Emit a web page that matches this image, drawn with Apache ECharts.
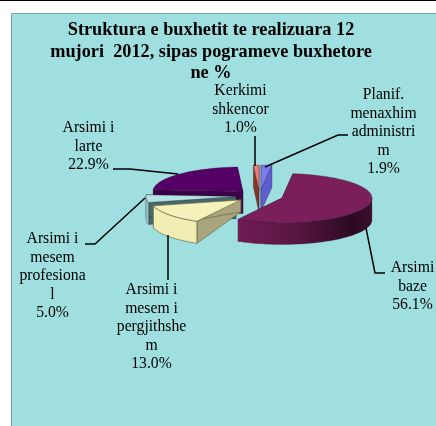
<!DOCTYPE html>
<html><head><meta charset="utf-8">
<style>html,body{margin:0;padding:0;background:#fff}#c{width:436px;height:426px}</style>
<script src="https://cdn.jsdelivr.net/npm/echarts@6/dist/echarts.min.js"></script>
</head><body><div id="c"></div>
<script>
const titleText = "Struktura e buxhetit te realizuara 12\nmujori  2012, sipas pogrameve buxhetore\nne %";
const categories = ["Arsimi\nbaze","Arsimi i\nmesem i\npergjithshe\nm","Arsimi i\nmesem\nprofesiona\nl","Arsimi i\nlarte","Kerkimi\nshkencor","Planif.\nmenaxhim\nadministri\nm"];
const values = [56.1,13.0,5.0,22.9,1.0,1.9];

// styles and layout, separate from the data
const topColors = ["#7B1F5B","#F5F2BC","#B4E4E4","#550066","#F27A72","#7C7CF2"];
const wallColors = ["#6a1a4e","#A9A57C","#46686A","#3A0048","#8A3428","#5E5ED0"];
const arcColors = [null,"#F1EEB4","#9CCACA",null,null,null];
const drawOrder = [3,4,5,2,1,0];
const labelX = [412.5,151.5,52.5,88.5,240.5,383.5];
const labelY = [268,290,239,128,91,95];
const apexDepth = [22,12,22,22,22,22];
const leaders = [
  [[366,228],[375,273],[385,273]],
  [[168,235],[168,280]],
  [[85,244],[95,244],[145,198]],
  [[113,169],[130,169],[178,174]],
  [[255,136],[255,166]],
  [[348,135],[338,135],[265,167]]
];
const pie = {cx:259.5, cy:196, rx:90, ry:24.5, depth:22, start:7, explode:0.2625};
const total = values.reduce((a,b)=>a+b,0);
const rad = d => d*Math.PI/180;

function sliceAngles(i){
  let a = pie.start;
  for(let k=0;k<i;k++) a += values[k]/total*360;
  return [a, a+values[i]/total*360];
}
function renderSlice(params, api){
  const i = params.dataIndex;
  const v = api.value(0);
  const [a0] = sliceAngles(i);
  const a1 = a0 + v/total*360;
  const mid = (a0+a1)/2;
  const cx = pie.cx + pie.explode*pie.rx*Math.sin(rad(mid));
  const cy = pie.cy - pie.explode*pie.ry*Math.cos(rad(mid));
  const pt = t => [cx+pie.rx*Math.sin(rad(t)), cy-pie.ry*Math.cos(rad(t))];
  const down = p => [p[0],p[1]+pie.depth];
  const arc = (s,e) => { const r=[]; const n=Math.max(2,Math.ceil((e-s)/2)); for(let k=0;k<=n;k++) r.push(pt(s+(e-s)*k/n)); return r; };
  const base = drawOrder.indexOf(i)*10;
  const edge = i===1 ? "#6b6a4a" : "rgba(40,20,40,0.45)";
  const kids = [];
  const poly = (points, fill, z, stroke) => kids.push({type:'polygon', z2:base+z, silent:true,
    shape:{points}, style:{fill, stroke:stroke||fill, lineWidth:stroke?0.7:0.3}});
  const c=[cx,cy];
  const cDown=[cx,cy+apexDepth[i]];
  [a0,a1].forEach((t,k)=>{ const p=pt(t); poly([c,p,down(p),cDown], wallColors[i], k+1, edge); });
  const s=Math.max(a0,90), e=Math.min(a1,270);
  if(e>s){
    const top=arc(s,e);
    const fill = arcColors[i] || {type:'linear',x:0,y:0,x2:1,y2:0,colorStops:[
      {offset:0,color:'#701C54'},{offset:0.45,color:'#571642'},{offset:0.85,color:'#2C0A22'},{offset:1,color:'#3C0F2E'}]};
    poly(top.concat(top.slice().reverse().map(down)), fill, 3, i===0?null:edge);
  }
  poly([c].concat(arc(a0,a1)), topColors[i], 4, edge);
  return {type:'group', children:kids};
}
const graphics = [
  {type:'rect', z:-10, silent:true, shape:{x:11.5,y:13.5,width:430,height:420}, style:{fill:'#A0DFE0',stroke:'#7f9f9f',lineWidth:1}},
  {type:'rect', z:-10, silent:true, shape:{x:0,y:0,width:436,height:1}, style:{fill:'#000'}}
];
categories.forEach((name,i)=>{
  graphics.push({type:'text', z:5, silent:true, x:labelX[i], y:labelY[i]-9,
    style:{text:name+"\n"+values[i].toFixed(1)+"%", fill:'#000', align:'center', verticalAlign:'top',
      font:'15.7px "Liberation Serif"', lineHeight:18.4}});
  graphics.push({type:'polyline', z:4, silent:true, shape:{points:leaders[i]},
    style:{stroke:'#000',lineWidth:1.5,fill:null}});
});
const chart = echarts.init(document.getElementById('c'),null,{renderer:'canvas'});
chart.setOption({
  animation:false,
  backgroundColor:'#fff',
  title:{text:titleText,left:206,top:15,textAlign:'center',
    textStyle:{fontFamily:'Liberation Serif',fontWeight:'bold',fontSize:18.3,lineHeight:21.3,color:'#000'}},
  graphic:graphics,
  series:[{type:'custom',coordinateSystem:'none',silent:true,renderItem:renderSlice,
    data:values.map((v,i)=>({name:categories[i].replace(/\n/g,' '),value:[v]}))}]
});
</script></body></html>
